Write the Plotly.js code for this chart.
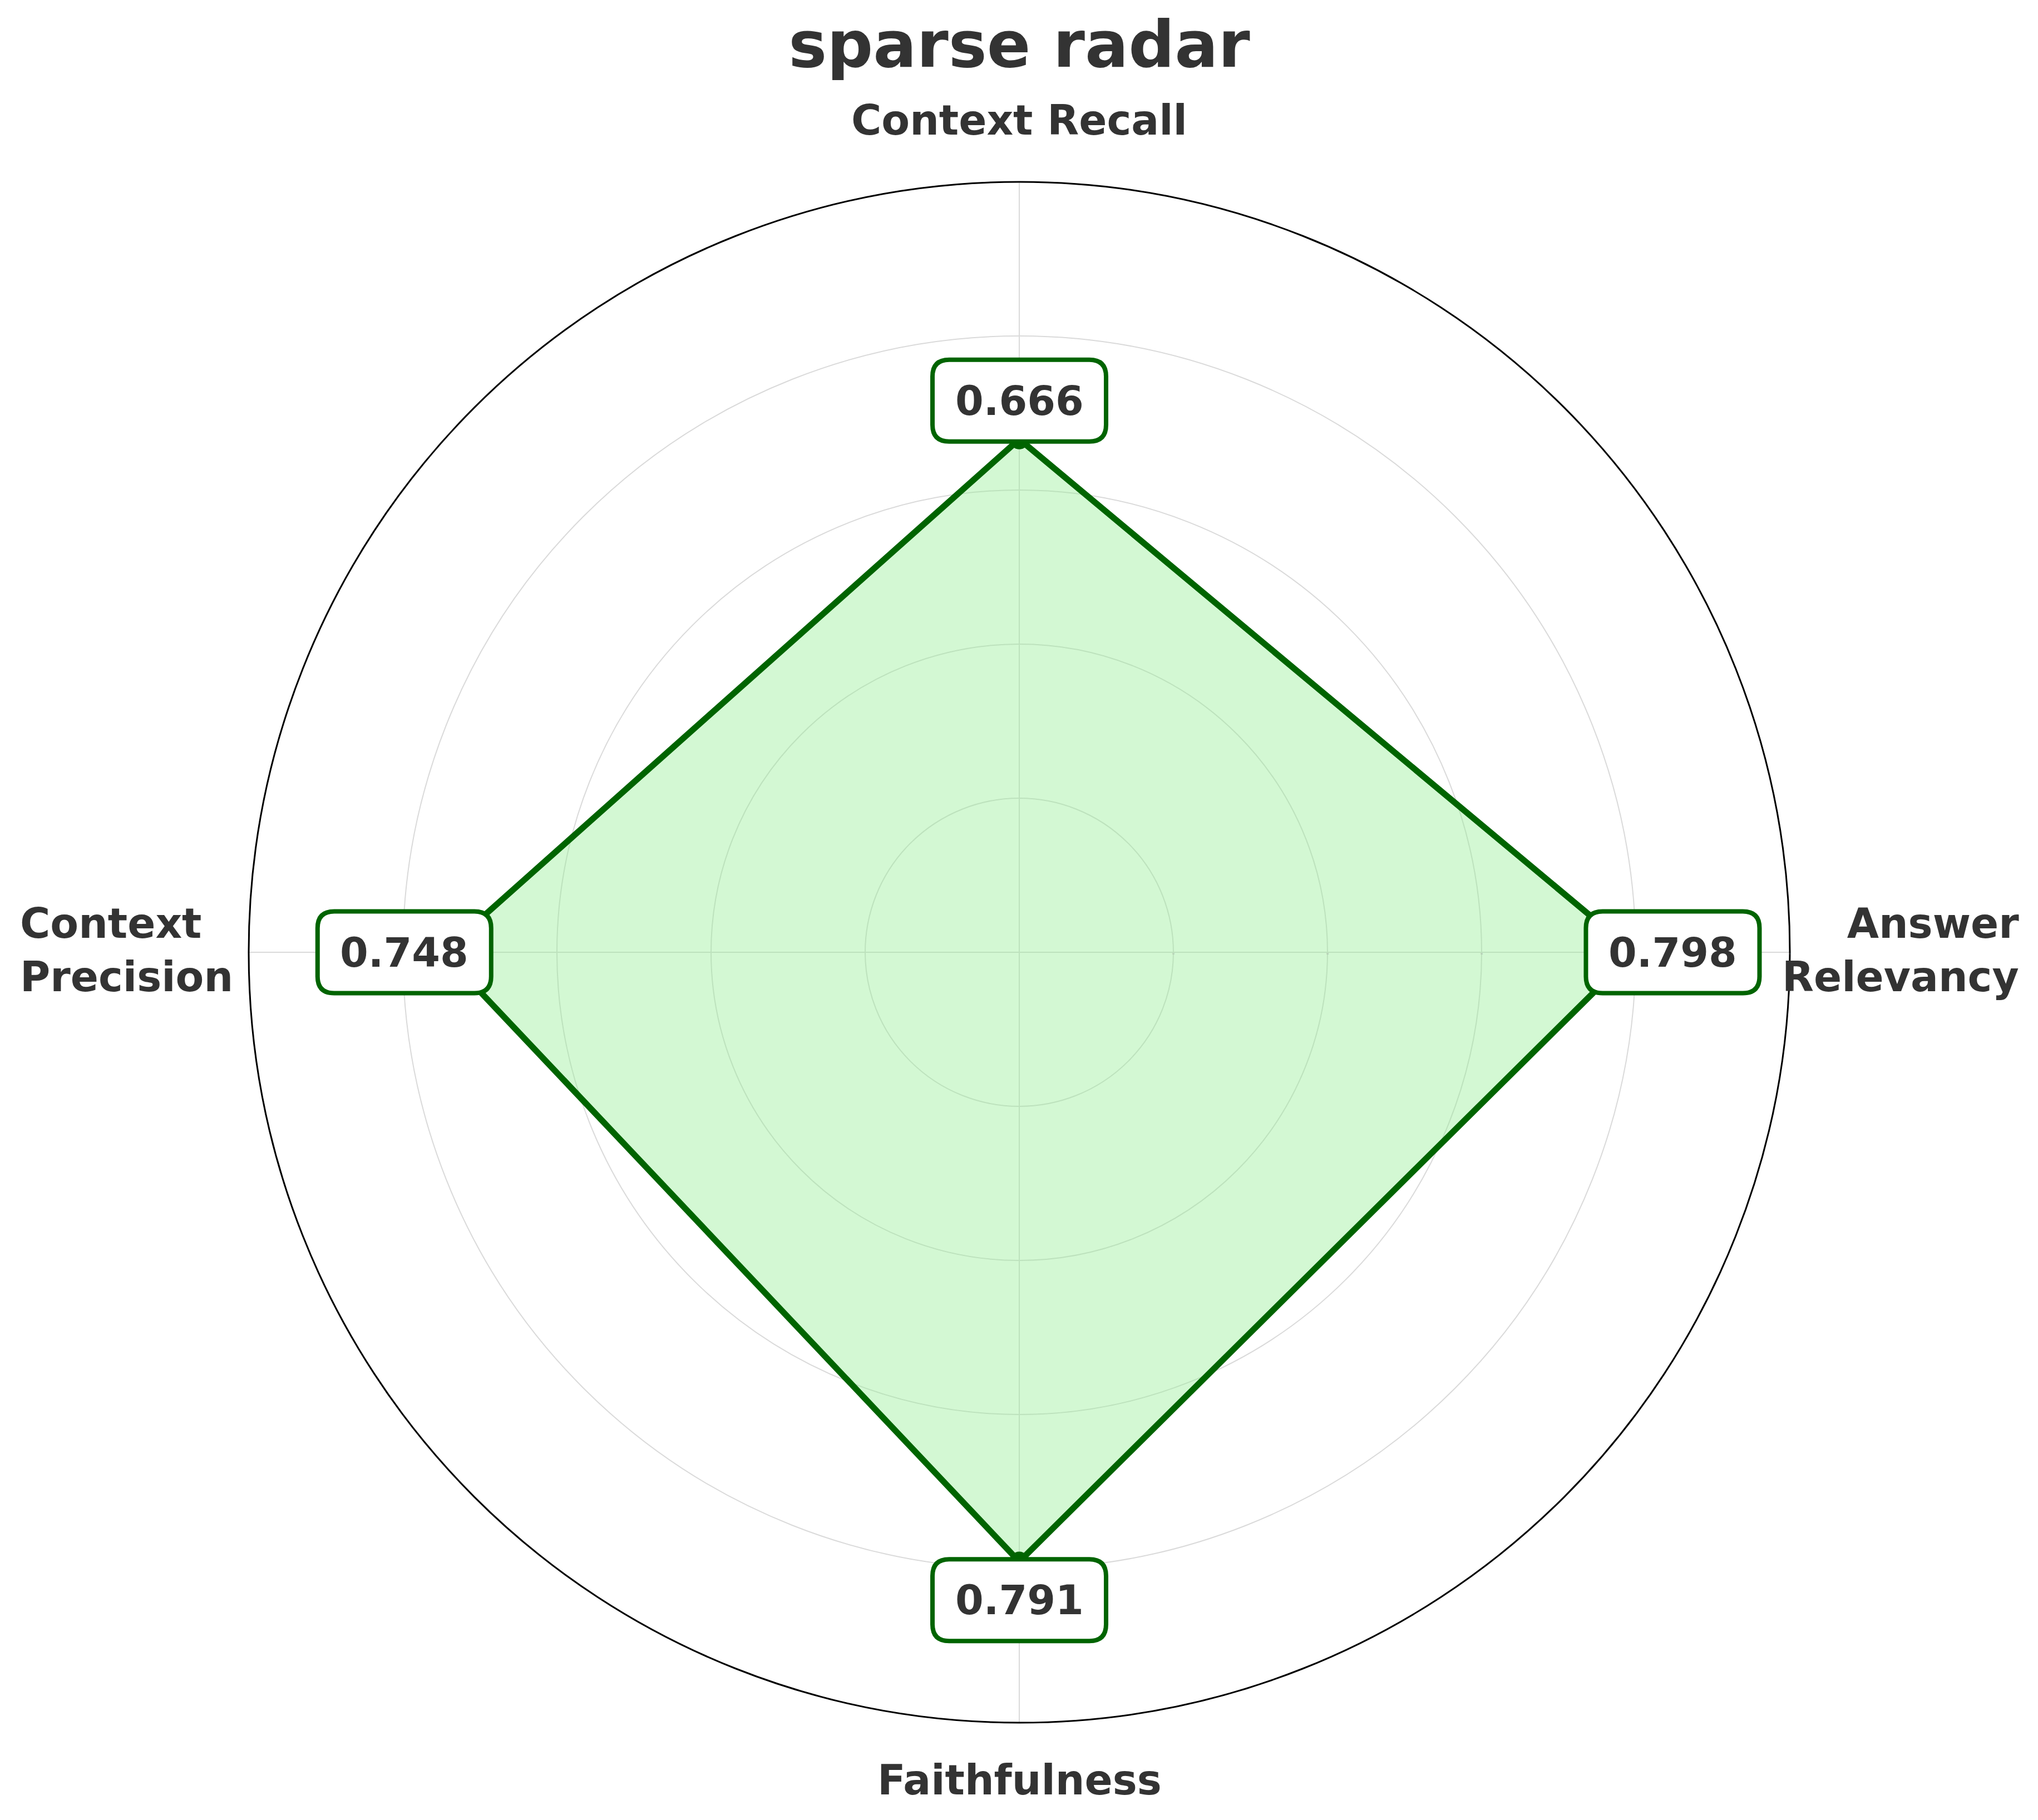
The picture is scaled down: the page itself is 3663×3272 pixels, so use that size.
<!DOCTYPE html>
<html>
<head>
<meta charset="utf-8">
<script src="https://cdn.plot.ly/plotly-3.0.1.min.js"></script>
<style>html,body{margin:0;padding:0;background:#fff;}#chart{width:3663px;height:3272px;}</style>
</head>
<body>
<div id="chart"></div>
<script>
// ---- data ----
const categories = ["Context Recall", "Answer Relevancy", "Faithfulness", "Context Precision"];
const labelLines = [["Context Recall"], ["Answer", "Relevancy"], ["Faithfulness"], ["Context", "Precision"]];
const values = [0.666, 0.798, 0.791, 0.748];
const radialTicks = [0.2, 0.4, 0.6, 0.8, 1.0];
const chartTitle = "sparse radar";

// ---- layout geometry ----
const W = 3663, H = 3272;
const px0 = 447, px1 = 3217, py0 = 327, py1 = 3097; // polar circle box in pixels
const cx = (px0 + px1) / 2, cy = (py0 + py1) / 2, R = (px1 - px0) / 2;
const textColor = "#333333";
const green = "#006400";
const font = "DejaVu Sans, Liberation Sans, sans-serif";

function toPaper(px, py) { return {x: px / W, y: 1 - py / H}; }
function polarPx(i, r) {
  const a = i * Math.PI / 2; // clockwise from top
  return {x: cx + r * R * Math.sin(a), y: cy - r * R * Math.cos(a)};
}
function roundRectPath(w, h, rad) {
  const x0 = -w / 2, x1 = w / 2, y0 = -h / 2, y1 = h / 2;
  return `M${x0 + rad},${y0} L${x1 - rad},${y0} Q${x1},${y0} ${x1},${y0 + rad} ` +
         `L${x1},${y1 - rad} Q${x1},${y1} ${x1 - rad},${y1} ` +
         `L${x0 + rad},${y1} Q${x0},${y1} ${x0},${y1 - rad} ` +
         `L${x0},${y0 + rad} Q${x0},${y0} ${x0 + rad},${y0} Z`;
}

const trace = {
  type: "scatterpolar",
  r: values.concat([values[0]]),
  theta: categories.concat([categories[0]]),
  mode: "lines+markers",
  fill: "toself",
  fillcolor: "rgba(144,238,144,0.4)",
  line: {color: green, width: 11},
  marker: {color: green, size: 36},
  hoverinfo: "skip",
  showlegend: false
};

const annotations = [];
const shapes = [];
// value boxes
values.forEach((v, i) => {
  const p = polarPx(i, v + 0.05);
  const q = toPaper(p.x, p.y);
  shapes.push({
    type: "path", layer: "above",
    xref: "paper", yref: "paper",
    xsizemode: "pixel", ysizemode: "pixel",
    xanchor: q.x, yanchor: q.y,
    path: roundRectPath(312, 147, 30),
    fillcolor: "#ffffff",
    line: {color: green, width: 8}
  });
  annotations.push({
    xref: "paper", yref: "paper", x: q.x, y: q.y,
    xanchor: "center", yanchor: "middle", showarrow: false,
    text: v.toFixed(3),
    font: {family: font, size: 73, color: textColor, weight: "bold"}
  });
});
// category labels
const lblFont = {family: font, size: 74, color: textColor, weight: "bold"};
annotations.push({xref: "paper", yref: "paper", showarrow: false,
  x: toPaper(cx, 0).x, y: toPaper(0, 216).y, xanchor: "center", yanchor: "middle",
  text: labelLines[0].join("<br>"), font: lblFont});
annotations.push({xref: "paper", yref: "paper", showarrow: false,
  x: toPaper(3631, 0).x, y: toPaper(0, 1708).y, xanchor: "right", yanchor: "middle", align: "right",
  text: labelLines[1].join("<br>"), font: lblFont});
annotations.push({xref: "paper", yref: "paper", showarrow: false,
  x: toPaper(cx, 0).x, y: toPaper(0, 3200).y, xanchor: "center", yanchor: "middle",
  text: labelLines[2].join("<br>"), font: lblFont});
annotations.push({xref: "paper", yref: "paper", showarrow: false,
  x: toPaper(34, 0).x, y: toPaper(0, 1708).y, xanchor: "left", yanchor: "middle", align: "left",
  text: labelLines[3].join("<br>"), font: lblFont});

const layout = {
  width: W, height: H,
  margin: {l: 0, r: 0, t: 0, b: 0, pad: 0},
  paper_bgcolor: "#ffffff",
  plot_bgcolor: "#ffffff",
  showlegend: false,
  title: {
    text: chartTitle,
    x: cx / W, xanchor: "center",
    y: 1 - 79 / H, yanchor: "middle", yref: "container",
    font: {family: font, size: 116, color: textColor, weight: "bold"}
  },
  polar: {
    domain: {x: [px0 / W, px1 / W], y: [1 - py1 / H, 1 - py0 / H]},
    bgcolor: "#ffffff",
    radialaxis: {
      range: [0, 1], angle: 0,
      tickvals: radialTicks, ticktext: radialTicks.map(t => t.toFixed(1)),
      showline: false, ticks: "",
      tickfont: {size: 3, color: "#999999"},
      gridcolor: "#dadada", gridwidth: 2
    },
    angularaxis: {
      type: "category", categoryarray: categories,
      direction: "clockwise", rotation: 90,
      showticklabels: false, ticks: "",
      showline: true, linecolor: "#000000", linewidth: 3,
      gridcolor: "#dadada", gridwidth: 2
    }
  },
  shapes: shapes,
  annotations: annotations
};

Plotly.newPlot("chart", [trace], layout, {displayModeBar: false, staticPlot: true});
</script>
</body>
</html>
